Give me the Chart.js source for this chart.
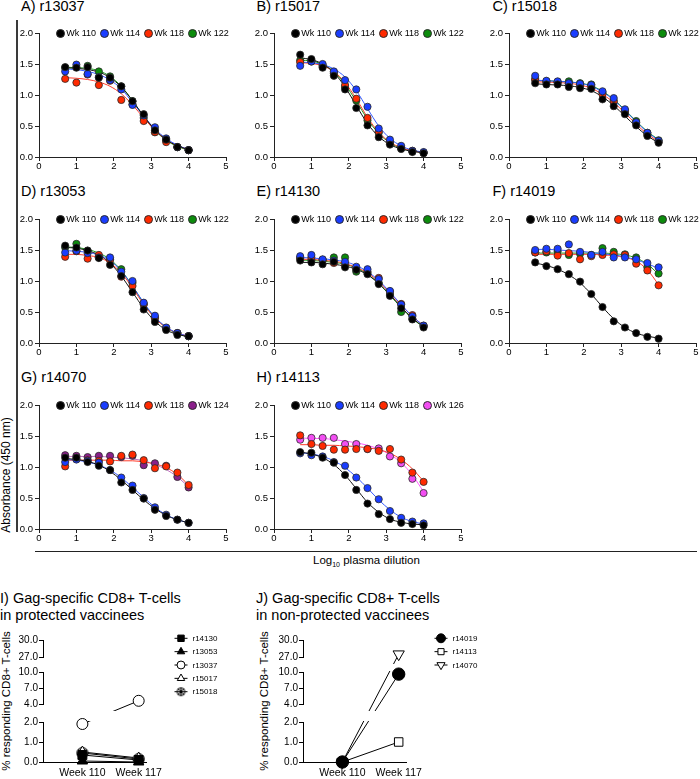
<!DOCTYPE html>
<html>
<head>
<meta charset="utf-8">
<script src="https://cdn.jsdelivr.net/npm/chart.js@4.4.1/dist/chart.umd.min.js"></script>
<style>
  body { margin: 0; width: 700px; height: 779px; overflow: hidden; position: relative; background: #fff; color: #000;
         font-family: Arial, "Liberation Sans", sans-serif; }
  canvas { position: absolute; }
  .ttl { position: absolute; font-size: 14.5px; line-height: 14.5px; white-space: nowrap; }
  .ttl2 { position: absolute; font-size: 14.5px; line-height: 17.4px; white-space: nowrap; }
  .rot { position: absolute; transform: translate(-50%, -50%) rotate(-90deg); white-space: nowrap; }
  .lg { position: absolute; display: flex; font-size: 9px; line-height: 10px; white-space: nowrap; }
  .lg .it { display: flex; align-items: center; width: 44px; }
  .lg i { display: inline-block; width: 7px; height: 7px; border-radius: 50%; border: 0.8px solid #2a2a2a; margin-right: 1.5px; }
</style>
</head>
<body>

<div style="position:absolute;left:15.5px;top:20px;width:2px;height:512px;background:#3a3a3a"></div>
<div style="position:absolute;left:35px;top:550.5px;width:662px;height:1.5px;background:#222"></div>
<div class="rot" style="left:6px;top:475px;font-size:12px">Absorbance (450 nm)</div>
<div style="position:absolute;left:313px;top:553px;font-size:11.5px;line-height:14px;white-space:nowrap">Log<sub style="font-size:7px">10</sub> plasma dilution</div>

<div class="ttl2" style="left:0px;top:589.6px">I) Gag-specific CD8+ T-cells<br>in protected vaccinees</div>
<div class="ttl2" style="left:256px;top:589.6px">J) Gag-specific CD8+ T-cells<br>in non-protected vaccinees</div>
<div class="rot" style="left:6px;top:701px;font-size:11.5px">% responding CD8+ T-cells</div>
<div class="rot" style="left:264px;top:701px;font-size:11.5px">% responding CD8+ T-cells</div>

<script>
// ---- absorbance panels (A-H) ----
const dilutions = [0.7, 1.0, 1.3, 1.6, 1.9, 2.2, 2.5, 2.8, 3.1, 3.4, 3.7, 4.0];
const xTickVals = [0, 1, 2, 3, 4, 5];
const yTickVals = [0, 0.5, 1, 1.5, 2];

const weeksStd = ['Wk 110', 'Wk 114', 'Wk 118', 'Wk 122'];
const weeksG = ['Wk 110', 'Wk 114', 'Wk 118', 'Wk 124'];
const weeksH = ['Wk 110', 'Wk 114', 'Wk 118', 'Wk 126'];

// measured points, one row per week
const aPoints = [
  [1.45, 1.44, 1.45, 1.28, 1.28, 1.14, 0.90, 0.69, 0.43, 0.28, 0.16, 0.11],
  [1.38, 1.49, 1.34, 1.29, 1.24, 1.09, 0.84, 0.67, 0.48, 0.30, 0.16, 0.11],
  [1.26, 1.20, 1.33, 1.16, 1.23, 0.92, 0.85, 0.58, 0.40, 0.24, 0.16, 0.11],
  [1.44, 1.45, 1.47, 1.38, 1.30, 1.14, 0.90, 0.63, 0.40, 0.27, 0.16, 0.11]
];
const aFits = [
  [1.44, 1.43, 1.41, 1.37, 1.28, 1.13, 0.91, 0.66, 0.44, 0.28, 0.18, 0.12],
  [1.42, 1.41, 1.38, 1.33, 1.24, 1.10, 0.88, 0.66, 0.45, 0.30, 0.19, 0.12],
  [1.28, 1.27, 1.25, 1.21, 1.14, 1.02, 0.84, 0.63, 0.43, 0.28, 0.18, 0.12],
  [1.45, 1.44, 1.43, 1.39, 1.30, 1.14, 0.91, 0.65, 0.43, 0.27, 0.17, 0.11]
];
const bPoints = [
  [1.65, 1.58, 1.44, 1.31, 1.09, 0.79, 0.51, 0.32, 0.20, 0.13, 0.08, 0.06],
  [1.47, 1.54, 1.50, 1.38, 1.24, 1.09, 0.81, 0.46, 0.28, 0.18, 0.10, 0.08],
  [1.53, 1.54, 1.46, 1.37, 1.16, 0.94, 0.63, 0.41, 0.24, 0.15, 0.10, 0.07],
  [1.56, 1.56, 1.48, 1.35, 1.13, 0.91, 0.59, 0.39, 0.23, 0.14, 0.09, 0.07]
];
const bFits = [
  [1.60, 1.57, 1.50, 1.36, 1.13, 0.83, 0.54, 0.33, 0.20, 0.13, 0.09, 0.07],
  [1.53, 1.52, 1.49, 1.42, 1.29, 1.07, 0.78, 0.50, 0.30, 0.18, 0.11, 0.08],
  [1.52, 1.51, 1.47, 1.38, 1.20, 0.94, 0.64, 0.40, 0.24, 0.15, 0.10, 0.07],
  [1.56, 1.55, 1.49, 1.38, 1.17, 0.90, 0.61, 0.38, 0.23, 0.14, 0.10, 0.07]
];
const cPoints = [
  [1.19, 1.17, 1.17, 1.13, 1.11, 1.10, 0.93, 0.82, 0.69, 0.51, 0.34, 0.23],
  [1.31, 1.23, 1.22, 1.19, 1.18, 1.16, 1.06, 0.95, 0.77, 0.56, 0.39, 0.26],
  [1.24, 1.20, 1.20, 1.18, 1.15, 1.13, 1.01, 0.89, 0.73, 0.55, 0.36, 0.24],
  [1.26, 1.22, 1.21, 1.22, 1.19, 1.17, 1.04, 0.91, 0.75, 0.58, 0.39, 0.27]
];
const cFits = [
  [1.18, 1.17, 1.16, 1.15, 1.12, 1.07, 0.97, 0.83, 0.66, 0.49, 0.34, 0.23],
  [1.24, 1.23, 1.22, 1.21, 1.19, 1.14, 1.05, 0.92, 0.75, 0.57, 0.40, 0.27],
  [1.21, 1.21, 1.20, 1.19, 1.16, 1.11, 1.01, 0.88, 0.71, 0.53, 0.37, 0.25],
  [1.23, 1.23, 1.22, 1.21, 1.19, 1.15, 1.06, 0.93, 0.76, 0.58, 0.41, 0.28]
];
const dPoints = [
  [1.57, 1.54, 1.49, 1.37, 1.26, 1.08, 0.82, 0.54, 0.34, 0.21, 0.13, 0.11],
  [1.46, 1.49, 1.45, 1.38, 1.38, 1.15, 1.00, 0.65, 0.44, 0.25, 0.16, 0.11],
  [1.39, 1.48, 1.36, 1.42, 1.34, 1.07, 0.92, 0.62, 0.40, 0.24, 0.16, 0.11],
  [1.54, 1.60, 1.49, 1.38, 1.35, 1.19, 0.97, 0.63, 0.41, 0.24, 0.16, 0.11]
];
const dFits = [
  [1.54, 1.53, 1.49, 1.42, 1.29, 1.08, 0.82, 0.56, 0.35, 0.21, 0.14, 0.10],
  [1.49, 1.48, 1.46, 1.42, 1.33, 1.16, 0.92, 0.65, 0.42, 0.26, 0.16, 0.11],
  [1.43, 1.43, 1.41, 1.38, 1.29, 1.13, 0.89, 0.62, 0.40, 0.25, 0.16, 0.11],
  [1.55, 1.54, 1.51, 1.45, 1.35, 1.17, 0.92, 0.64, 0.41, 0.25, 0.15, 0.10]
];
const ePoints = [
  [1.33, 1.30, 1.27, 1.31, 1.22, 1.18, 1.11, 0.95, 0.76, 0.56, 0.38, 0.25],
  [1.40, 1.42, 1.35, 1.33, 1.31, 1.23, 1.19, 1.03, 0.84, 0.62, 0.43, 0.28],
  [1.37, 1.38, 1.34, 1.29, 1.26, 1.20, 1.15, 1.05, 0.83, 0.63, 0.45, 0.28],
  [1.37, 1.34, 1.34, 1.38, 1.38, 1.15, 1.13, 0.97, 0.79, 0.50, 0.39, 0.27]
];
const eFits = [
  [1.30, 1.30, 1.29, 1.27, 1.24, 1.19, 1.10, 0.96, 0.78, 0.58, 0.40, 0.26],
  [1.38, 1.37, 1.36, 1.34, 1.31, 1.25, 1.15, 1.01, 0.82, 0.62, 0.43, 0.28],
  [1.35, 1.35, 1.33, 1.32, 1.28, 1.22, 1.13, 0.99, 0.81, 0.61, 0.43, 0.28],
  [1.34, 1.33, 1.32, 1.30, 1.27, 1.21, 1.11, 0.96, 0.77, 0.57, 0.39, 0.26]
];
const fPoints = [
  [1.30, 1.24, 1.19, 1.11, 0.99, 0.79, 0.58, 0.35, 0.25, 0.16, 0.10, 0.07],
  [1.50, 1.52, 1.52, 1.59, 1.47, 1.42, 1.47, 1.38, 1.38, 1.35, 1.29, 1.22],
  [1.46, 1.48, 1.41, 1.45, 1.35, 1.40, 1.42, 1.43, 1.42, 1.28, 1.17, 0.93],
  [1.46, 1.46, 1.48, 1.42, 1.44, 1.42, 1.53, 1.47, 1.43, 1.38, 1.22, 1.12]
];
const fFits = [
  [1.29, 1.25, 1.19, 1.10, 0.97, 0.79, 0.58, 0.39, 0.25, 0.16, 0.11, 0.08],
  [1.51, 1.51, 1.50, 1.49, 1.48, 1.46, 1.44, 1.42, 1.39, 1.34, 1.28, 1.20],
  [1.43, 1.43, 1.43, 1.43, 1.43, 1.43, 1.42, 1.41, 1.38, 1.32, 1.18, 0.94],
  [1.45, 1.45, 1.45, 1.45, 1.45, 1.45, 1.45, 1.44, 1.42, 1.37, 1.27, 1.11]
];
const gPoints = [
  [1.15, 1.15, 1.08, 1.02, 0.95, 0.75, 0.63, 0.49, 0.31, 0.21, 0.15, 0.10],
  [1.08, 1.12, 1.10, 1.07, 0.95, 0.83, 0.70, 0.50, 0.35, 0.23, 0.15, 0.10],
  [1.01, 1.13, 1.11, 1.10, 1.09, 1.18, 1.20, 1.11, 0.98, 1.01, 0.91, 0.71],
  [1.19, 1.18, 1.16, 1.18, 1.18, 1.16, 1.18, 1.03, 1.06, 1.02, 0.84, 0.67]
];
const gFits = [
  [1.14, 1.12, 1.09, 1.03, 0.93, 0.79, 0.63, 0.47, 0.33, 0.22, 0.15, 0.10],
  [1.12, 1.11, 1.08, 1.03, 0.95, 0.83, 0.67, 0.51, 0.35, 0.23, 0.15, 0.10],
  [1.11, 1.11, 1.11, 1.11, 1.11, 1.10, 1.10, 1.08, 1.05, 0.99, 0.88, 0.71],
  [1.17, 1.17, 1.17, 1.17, 1.16, 1.15, 1.13, 1.10, 1.04, 0.96, 0.84, 0.68]
];
const hPoints = [
  [1.24, 1.23, 1.15, 1.07, 0.87, 0.63, 0.41, 0.24, 0.16, 0.10, 0.08, 0.06],
  [1.22, 1.19, 1.17, 1.08, 1.02, 0.83, 0.66, 0.48, 0.29, 0.18, 0.12, 0.09],
  [1.51, 1.37, 1.34, 1.28, 1.28, 1.29, 1.29, 1.26, 1.29, 1.12, 0.91, 0.76],
  [1.44, 1.47, 1.47, 1.47, 1.37, 1.37, 1.29, 1.30, 1.17, 1.06, 0.81, 0.58]
];
const hFits = [
  [1.24, 1.21, 1.15, 1.04, 0.87, 0.65, 0.43, 0.27, 0.16, 0.11, 0.08, 0.07],
  [1.23, 1.21, 1.17, 1.10, 0.99, 0.84, 0.66, 0.47, 0.31, 0.19, 0.12, 0.08],
  [1.36, 1.36, 1.35, 1.35, 1.34, 1.33, 1.31, 1.28, 1.22, 1.12, 0.97, 0.77],
  [1.47, 1.46, 1.46, 1.44, 1.42, 1.39, 1.35, 1.29, 1.20, 1.07, 0.87, 0.60]
];

// ---- CD8 panels (I, J) ----
const weekLabels = ['Week 110', 'Week 117'];
const protSubjects = ['r14130', 'r13053', 'r13037', 'r15017', 'r15018'];
const protWk110 = [0.35, 0.05, 1.9, 0.5, 0.45];
const protWk117 = [0.1, 0.0, 4.6, 0.2, 0.15];
const nonProtSubjects = ['r14019', 'r14113', 'r14070'];
const nonProtWk110 = [0.0, 0.0, 0.0];
const nonProtWk117 = [9.6, 1.0, 27.5];
const cd8TicksLow = [0, 1, 2];
const cd8TicksMid = [4, 7, 10];
const cd8TicksTop = [27, 30];

// ---- styles / layout ----
Chart.defaults.font.family = 'Arial, "Liberation Sans", sans-serif';
Chart.defaults.color = '#000';
const axisCol = '#222';

const weekFill = { 'Wk 110': '#000000', 'Wk 114': '#1a3dff', 'Wk 118': '#ff2a00', 'Wk 122': '#0c8c0c', 'Wk 124': '#8a1f8a', 'Wk 126': '#f24ef2' };
const weekLine = { 'Wk 110': '#111111', 'Wk 114': '#3358ff', 'Wk 118': '#ff3b2a', 'Wk 122': '#1a9a1a', 'Wk 124': '#c070c0', 'Wk 126': '#ff5cff' };

const colLeft = [39, 274, 509];
const rowTop = [33, 219, 405];
const titleLeft = [21, 256.5, 492.5];
const titleTop = [-0.6, 184.4, 370.4];
const PW = 187, PH = 124, YW = 30, XH = 18, PADT = 8, PADR = 8;

const panels = [
  { title: 'A) r13037', weeks: weeksStd, pts: aPoints, fit: aFits, col: 0, row: 0 },
  { title: 'B) r15017', weeks: weeksStd, pts: bPoints, fit: bFits, col: 1, row: 0 },
  { title: 'C) r15018', weeks: weeksStd, pts: cPoints, fit: cFits, col: 2, row: 0 },
  { title: 'D) r13053', weeks: weeksStd, pts: dPoints, fit: dFits, col: 0, row: 1 },
  { title: 'E) r14130', weeks: weeksStd, pts: ePoints, fit: eFits, col: 1, row: 1 },
  { title: 'F) r14019', weeks: weeksStd, pts: fPoints, fit: fFits, col: 2, row: 1 },
  { title: 'G) r14070', weeks: weeksG, pts: gPoints, fit: gFits, col: 0, row: 2 },
  { title: 'H) r14113', weeks: weeksH, pts: hPoints, fit: hFits, col: 1, row: 2 }
];

function absorbanceChart(p) {
  const left = colLeft[p.col], top = rowTop[p.row];

  const t = document.createElement('div');
  t.className = 'ttl';
  t.style.left = titleLeft[p.col] + 'px';
  t.style.top = titleTop[p.row] + 'px';
  t.textContent = p.title;
  document.body.appendChild(t);

  const cv = document.createElement('canvas');
  cv.width = YW + PW + PADR;
  cv.height = PADT + PH + XH;
  cv.style.left = (left - YW) + 'px';
  cv.style.top = (top - PADT) + 'px';
  document.body.appendChild(cv);

  const lg = document.createElement('div');
  lg.className = 'lg';
  lg.style.left = (left + 16.7) + 'px';
  lg.style.top = (top - 5) + 'px';
  p.weeks.forEach(wk => {
    lg.insertAdjacentHTML('beforeend', `<span class="it"><i style="background:${weekFill[wk]}"></i>${wk}</span>`);
  });
  document.body.appendChild(lg);

  const datasets = [];
  p.weeks.forEach((wk, i) => {
    datasets.push({
      label: wk,
      data: dilutions.map((x, j) => ({ x, y: p.pts[i][j] })),
      backgroundColor: weekFill[wk],
      borderColor: '#2a2a2a',
      borderWidth: 0.8,
      pointRadius: 3.6,
      showLine: false,
      order: i,
      clip: false
    });
    datasets.push({
      type: 'line',
      label: wk + ' fit',
      data: dilutions.map((x, j) => ({ x, y: p.fit[i][j] })),
      borderColor: weekLine[wk],
      borderWidth: 1,
      pointRadius: 0,
      showLine: true,
      fill: false,
      cubicInterpolationMode: 'monotone',
      order: 10 + i,
      clip: false
    });
  });

  new Chart(cv, {
    type: 'scatter',
    data: { datasets },
    options: {
      responsive: false,
      animation: false,
      devicePixelRatio: 1,
      events: [],
      layout: { padding: { top: PADT, right: PADR, left: 0, bottom: 0 } },
      plugins: { legend: { display: false }, tooltip: { enabled: false } },
      scales: {
        x: {
          type: 'linear', min: 0, max: 5,
          afterBuildTicks: s => { s.ticks = xTickVals.map(v => ({ value: v })); },
          afterFit: s => { s.height = XH; },
          grid: { drawOnChartArea: false, tickLength: 4, color: axisCol },
          border: { color: axisCol, width: 1 },
          ticks: { padding: 0, font: { size: 9.5 }, maxRotation: 0, callback: v => String(v) }
        },
        y: {
          type: 'linear', min: 0, max: 2,
          afterBuildTicks: s => { s.ticks = yTickVals.map(v => ({ value: v })); },
          afterFit: s => { s.width = YW; },
          grid: { drawOnChartArea: false, tickLength: 4, color: axisCol },
          border: { color: axisCol, width: 1 },
          ticks: { padding: 2, font: { size: 9.5 }, callback: v => v.toFixed(1) }
        }
      }
    }
  });
}

panels.forEach(absorbanceChart);

// ---- broken-axis CD8 charts ----
function circleStar(r) {
  const c = document.createElement('canvas');
  const s = Math.ceil(r * 2 + 3);
  c.width = c.height = s;
  const g = c.getContext('2d');
  const m = s / 2;
  g.fillStyle = '#fff';
  g.strokeStyle = '#000';
  g.lineWidth = 1;
  g.beginPath(); g.arc(m, m, r, 0, Math.PI * 2); g.fill(); g.stroke();
  g.beginPath();
  for (let k = 0; k < 4; k++) {
    const a = k * Math.PI / 4;
    g.moveTo(m + Math.cos(a) * r, m + Math.sin(a) * r);
    g.lineTo(m - Math.cos(a) * r, m - Math.sin(a) * r);
  }
  g.stroke();
  return c;
}

const protStyles = [
  { pointStyle: 'rect', radius: 6.3, fill: '#000' },
  { pointStyle: 'triangle', radius: 6, fill: '#000' },
  { pointStyle: 'circle', radius: 5.5, fill: '#fff' },
  { pointStyle: 'triangle', radius: 6, fill: '#fff' },
  { pointStyle: 'circleStar', radius: 5.5, fill: '#fff' }
];
const nonProtStyles = [
  { pointStyle: 'circle', radius: 6.2, fill: '#000' },
  { pointStyle: 'rect', radius: 6, fill: '#fff' },
  { pointStyle: 'triangle', radius: 6.5, rotation: 180, fill: '#fff' }
];

const segs = [
  { id: 'yLow', min: 0, max: 2, ticks: cd8TicksLow, weight: 40 },
  { id: 'yGap1', gap: true, weight: 18 },
  { id: 'yMid', min: 4, max: 10, ticks: cd8TicksMid, weight: 32 },
  { id: 'yGap2', gap: true, weight: 15 },
  { id: 'yTop', min: 27, max: 30, ticks: cd8TicksTop, weight: 17 }
];
const dataSegs = segs.filter(s => !s.gap);

function segOf(v) {
  return dataSegs.find(s => v >= s.min && v <= s.max) ||
    dataSegs.reduce((a, b) => (Math.abs(v - a.max) < Math.abs(v - b.min) ? a : b));
}

function pointStyleOf(st, scale) {
  return st.pointStyle === 'circleStar' ? circleStar(st.radius * scale) : st.pointStyle;
}

function cd8Chart(cfg) {
  const plotLeft = cfg.left, plotTop = 640, plotW = 103, plotH = 122;
  const yAxisW = 40, legendRoom = 105;

  const cv = document.createElement('canvas');
  cv.width = yAxisW + plotW + legendRoom;
  cv.height = PADT + plotH + 18;
  cv.style.left = (plotLeft - yAxisW) + 'px';
  cv.style.top = (plotTop - PADT) + 'px';
  document.body.appendChild(cv);

  const series = cfg.subjects.map((_, i) => [cfg.wk110[i], cfg.wk117[i]]);

  const datasets = [];
  series.forEach((vals, i) => {
    const st = cfg.styles[i];
    dataSegs.forEach(s => {
      const pts = vals.map((v, k) => (segOf(v) === s ? { x: k, y: v } : null)).filter(Boolean);
      if (!pts.length) return;
      datasets.push({
        label: cfg.subjects[i],
        data: pts,
        yAxisID: s.id,
        showLine: false,
        pointStyle: pointStyleOf(st, 1),
        pointRadius: st.radius,
        rotation: st.rotation || 0,
        backgroundColor: st.fill,
        borderColor: '#000',
        borderWidth: 1,
        order: i,
        clip: false
      });
    });
  });

  const scales = {
    x: {
      type: 'linear', min: -0.7, max: 1.13,
      afterBuildTicks: s => { s.ticks = weekLabels.map((_, k) => ({ value: k })); },
      afterFit: s => { s.height = 18; },
      grid: { display: false, drawTicks: false, tickLength: 0 },
      border: { color: '#000', width: 1 },
      ticks: { padding: 5, font: { size: 10.5 }, maxRotation: 0, autoSkip: false, callback: v => weekLabels[v] }
    }
  };
  segs.forEach(s => {
    if (s.gap) {
      scales[s.id] = { type: 'linear', display: false, position: 'left', stack: 'cd8', stackWeight: s.weight, min: 0, max: 1 };
    } else {
      scales[s.id] = {
        type: 'linear', position: 'left', stack: 'cd8', stackWeight: s.weight, min: s.min, max: s.max,
        afterBuildTicks: sc => { sc.ticks = s.ticks.map(v => ({ value: v })); },
        afterFit: sc => { sc.width = yAxisW; },
        grid: { drawOnChartArea: false, tickLength: 4, color: '#000' },
        border: { color: '#000', width: 1 },
        ticks: { padding: 1, font: { size: 10 }, autoSkip: false, callback: v => v.toFixed(1) }
      };
    }
  });

  // connecting lines, interrupted where the axis is broken
  const brokenLines = {
    id: 'brokenLines',
    beforeDatasetsDraw(chart) {
      const { ctx, chartArea: a, scales: sc } = chart;
      const cuts = ['yGap1', 'yGap2'].map(id => [sc[id].top + 7, sc[id].bottom - 1]).sort((p, q) => p[0] - q[0]);
      ctx.save();
      ctx.beginPath();
      let y = a.top - 20;
      cuts.forEach(([t, b]) => { ctx.rect(a.left - 5, y, a.width + 10, t - y); y = b; });
      ctx.rect(a.left - 5, y, a.width + 10, a.bottom + 20 - y);
      ctx.clip();
      ctx.strokeStyle = '#000';
      ctx.lineWidth = 1;
      series.forEach(vals => {
        ctx.beginPath();
        vals.forEach((v, k) => {
          const px = sc.x.getPixelForValue(k);
          const py = sc[segOf(v).id].getPixelForValue(v);
          if (k) ctx.lineTo(px, py); else ctx.moveTo(px, py);
        });
        ctx.stroke();
      });
      ctx.restore();
    }
  };

  const sideLegend = {
    id: 'sideLegend',
    afterDraw(chart) {
      const { ctx, chartArea: a } = chart;
      const x0 = a.right + 35;
      cfg.subjects.forEach((name, i) => {
        const st = cfg.styles[i];
        const y = a.top - 1.7 + i * 13.35;
        ctx.save();
        ctx.strokeStyle = '#000';
        ctx.lineWidth = 1;
        ctx.beginPath(); ctx.moveTo(x0 - 6.5, y); ctx.lineTo(x0 + 6.5, y); ctx.stroke();
        ctx.fillStyle = st.fill;
        Chart.helpers.drawPoint(ctx, {
          pointStyle: pointStyleOf(st, 0.72), radius: st.radius * 0.72,
          rotation: st.rotation || 0, borderWidth: 1
        }, x0, y);
        ctx.fillStyle = '#000';
        ctx.font = '8px Arial, "Liberation Sans", sans-serif';
        ctx.textBaseline = 'middle';
        ctx.textAlign = 'left';
        ctx.fillText(name, x0 + 11.5, y + 0.5);
        ctx.restore();
      });
    }
  };

  new Chart(cv, {
    type: 'scatter',
    data: { datasets },
    options: {
      responsive: false,
      animation: false,
      devicePixelRatio: 1,
      events: [],
      layout: { padding: { top: PADT, right: legendRoom, left: 0, bottom: 0 } },
      plugins: { legend: { display: false }, tooltip: { enabled: false } },
      scales
    },
    plugins: [brokenLines, sideLegend]
  });
}

cd8Chart({ left: 43, subjects: protSubjects, wk110: protWk110, wk117: protWk117, styles: protStyles });
cd8Chart({ left: 303, subjects: nonProtSubjects, wk110: nonProtWk110, wk117: nonProtWk117, styles: nonProtStyles });
</script>
</body>
</html>
